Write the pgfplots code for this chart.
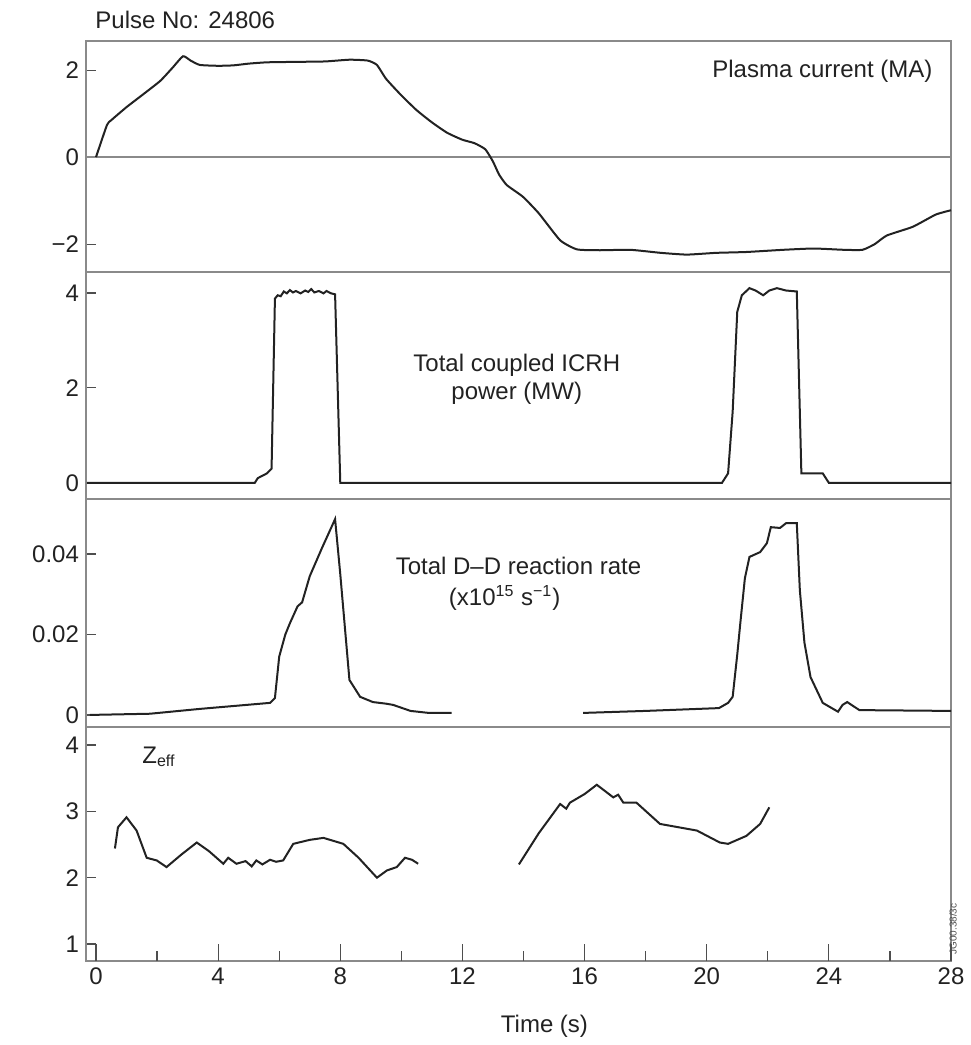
\documentclass[border=0pt]{standalone}
\usepackage{fontspec}
\setmainfont{Liberation Sans}
\usepackage{pgfplots}
\pgfplotsset{compat=1.18}
\definecolor{ink}{HTML}{222222}
\definecolor{frame}{HTML}{8A8A8A}
\pgfplotsset{
  panel/.style={
    scale only axis, width=432.5pt, xmin=-0.327, xmax=28,
    axis line style={draw=frame, line width=0.8pt},
    xtick=\empty, ytick pos=left, tick align=inside,
    major tick length=5pt, scaled y ticks=false,
    tick style={draw=ink!80, line width=0.6pt},
    tick label style={font=\fontsize{12}{14}\selectfont, text=ink},
    cycle list={{ink,mark=none}},
    every axis plot/.append style={line width=1pt, mark=none},
    clip=false,
  },
}
\tikzset{lbl/.style={font=\fontsize{12}{14}\selectfont, text=ink, inner sep=0pt}}
\begin{document}
\begin{tikzpicture}
\path[use as bounding box] (0,0) rectangle (485pt,-522.5pt);

% plasma current
\begin{axis}[panel, at={(43pt,-20.5pt)}, anchor=north west, height=115.5pt,
  ymin=-2.64, ymax=2.67, ytick={-2,0,2}, yticklabels={−2,0,2}]
\addplot[frame, line width=0.8pt, forget plot] coordinates {(-0.327,0) (28,0)};
\addplot[ink, smooth, tension=0.3] coordinates {(0,0) (0.36,0.74) (0.5,0.85) (1.0,1.15) (1.5,1.42) (2.1,1.75)
  (2.5,2.05) (2.85,2.32) (3.1,2.22) (3.4,2.12) (4.0,2.10) (4.5,2.11) (5.0,2.15)
  (5.6,2.18) (6.5,2.19) (7.5,2.2) (8.3,2.24) (8.9,2.22) (9.2,2.12) (9.5,1.8)
  (10.0,1.42) (10.5,1.08) (11.0,0.8) (11.5,0.56) (12.0,0.4) (12.4,0.32) (12.75,0.18)
  (13.0,-0.1) (13.2,-0.4) (13.45,-0.64) (13.98,-0.91) (14.5,-1.29) (15.2,-1.91)
  (15.75,-2.12) (16.5,-2.14) (17.5,-2.13) (18.5,-2.2) (19.35,-2.24) (20.3,-2.2)
  (21.3,-2.18) (22.5,-2.13) (23.5,-2.1) (24.5,-2.13) (25.1,-2.13) (25.5,-2.0)
  (25.9,-1.8) (26.75,-1.6) (27.5,-1.32) (28,-1.22)};
\node[lbl, anchor=base west] at (rel axis cs:0.0104,1) [yshift=6.5pt] {Pulse No: 24806};
\node[lbl, anchor=base east] at (rel axis cs:0.979,0.844) {Plasma current (MA)};
\end{axis}

% ICRH power
\begin{axis}[panel, at={(43pt,-136pt)}, anchor=north west, height=113.5pt,
  ymin=-0.34, ymax=4.44, ytick={0,2,4}, yticklabels={0,2,4}]
\addplot[ink] coordinates {(-0.3,0) (5.2,0) (5.3,0.1) (5.6,0.2) (5.75,0.3) (5.86,3.88)
  (5.95,3.95) (6.05,3.93) (6.15,4.03) (6.25,3.99) (6.35,4.06) (6.45,4.01) (6.55,4.04)
  (6.7,3.99) (6.85,4.05) (6.95,4.02) (7.05,4.08) (7.15,4.01) (7.3,4.04) (7.45,3.99)
  (7.55,4.04) (7.7,3.99) (7.83,3.97) (8.0,0) (20.5,0) (20.7,0.2) (20.85,1.5)
  (21.0,3.6) (21.15,3.95) (21.4,4.1) (21.6,4.05) (21.85,3.95) (22.05,4.05) (22.3,4.1)
  (22.6,4.05) (22.95,4.03) (23.1,0.2) (23.8,0.2) (24.0,0) (28,0)};
\node[lbl, anchor=base] at (rel axis cs:0.498,0.5595) {Total coupled ICRH};
\node[lbl, anchor=base] at (rel axis cs:0.498,0.4405) {power (MW)};
\end{axis}

% D-D reaction rate
\begin{axis}[panel, at={(43pt,-249.5pt)}, anchor=north west, height=114pt,
  ymin=-0.003, ymax=0.0537, ytick={0,0.02,0.04}, yticklabels={0,0.02,0.04}]
\addplot[ink] coordinates {(-0.2,0.0) (1.77,0.0003) (3.4,0.0015) (5.7,0.003) (5.86,0.0042)
  (6.0,0.0145) (6.2,0.020) (6.35,0.0228) (6.6,0.027) (6.75,0.028) (7.0,0.0345)
  (7.4,0.0415) (7.83,0.0487) (8.0,0.035) (8.3,0.0087) (8.65,0.0045) (9.07,0.0032)
  (9.5,0.0028) (9.73,0.0025) (10.3,0.001) (10.9,0.0005) (11.65,0.0005)};
\addplot[ink] coordinates {(15.95,0.0005) (18,0.001) (20.4,0.0017) (20.7,0.003) (20.85,0.0045)
  (21.0,0.015) (21.1,0.0228) (21.25,0.034) (21.4,0.0393) (21.75,0.0405) (21.97,0.0427)
  (22.1,0.0467) (22.4,0.0465) (22.6,0.0477) (22.95,0.0477) (23.05,0.031) (23.2,0.018)
  (23.4,0.0094) (23.8,0.003) (24.3,0.0008) (24.45,0.0025) (24.6,0.0032) (24.8,0.0022)
  (25.0,0.0012) (28,0.001)};
\node[lbl, anchor=base] at (rel axis cs:0.5,0.667) {Total D–D reaction rate};
\node[lbl, anchor=base] at (rel axis cs:0.484,0.535) {(x10\textsuperscript{15} s\textsuperscript{−1})};
\end{axis}

% Zeff
\begin{axis}[panel, at={(43pt,-363.5pt)}, anchor=north west, height=117pt,
  ymin=0.745, ymax=4.27, ytick={1,2,3,4}, yticklabels={1,2,3,4}]
\addplot[ink] coordinates {(0.62,2.44) (0.72,2.76) (1.0,2.91) (1.33,2.71) (1.66,2.3)
  (1.99,2.26) (2.31,2.16) (2.8,2.35) (3.3,2.53) (3.7,2.4) (4.17,2.21) (4.33,2.3)
  (4.6,2.21) (4.9,2.25) (5.1,2.17) (5.25,2.26) (5.45,2.2) (5.7,2.27) (5.9,2.24)
  (6.13,2.26) (6.46,2.51) (7.0,2.57) (7.45,2.6) (8.1,2.51) (8.6,2.3) (9.2,2.0)
  (9.53,2.11) (9.85,2.16) (10.12,2.3) (10.35,2.27) (10.55,2.21)};
\addplot[ink] coordinates {(13.85,2.2) (14.5,2.67) (15.2,3.11) (15.4,3.04) (15.52,3.13)
  (16.0,3.26) (16.4,3.4) (16.94,3.21) (17.1,3.25) (17.27,3.13) (17.7,3.13)
  (18.47,2.81) (19.68,2.71) (20.43,2.53) (20.7,2.51) (21.3,2.63) (21.75,2.81) (22.05,3.06)};
\node[lbl, anchor=base west] at (rel axis cs:0.0647,0.846) {Z\textsubscript{eff}};
\node[font=\fontsize{5}{6}\selectfont, text=ink!80, rotate=90, anchor=north west, inner sep=0pt]
  at (rel axis cs:1,0) [xshift=3pt, yshift=1pt] {JG00.38/3c};
\end{axis}

% time axis ticks
\begin{axis}[panel, at={(43pt,-363.5pt)}, anchor=north west, height=117pt,
  ymin=0.745, ymax=4.27, hide y axis, axis line style={draw=none},
  xtick={0,4,8,12,16,20,24,28}, xticklabels={0,4,8,12,16,20,24,28},
  xtick pos=lower, minor x tick num=1, major tick length=8.5pt, minor tick length=5pt]
\node[lbl, anchor=base] at (rel axis cs:0.53,0) [yshift=-35.5pt] {Time (s)};
\end{axis}
\end{tikzpicture}
\end{document}
